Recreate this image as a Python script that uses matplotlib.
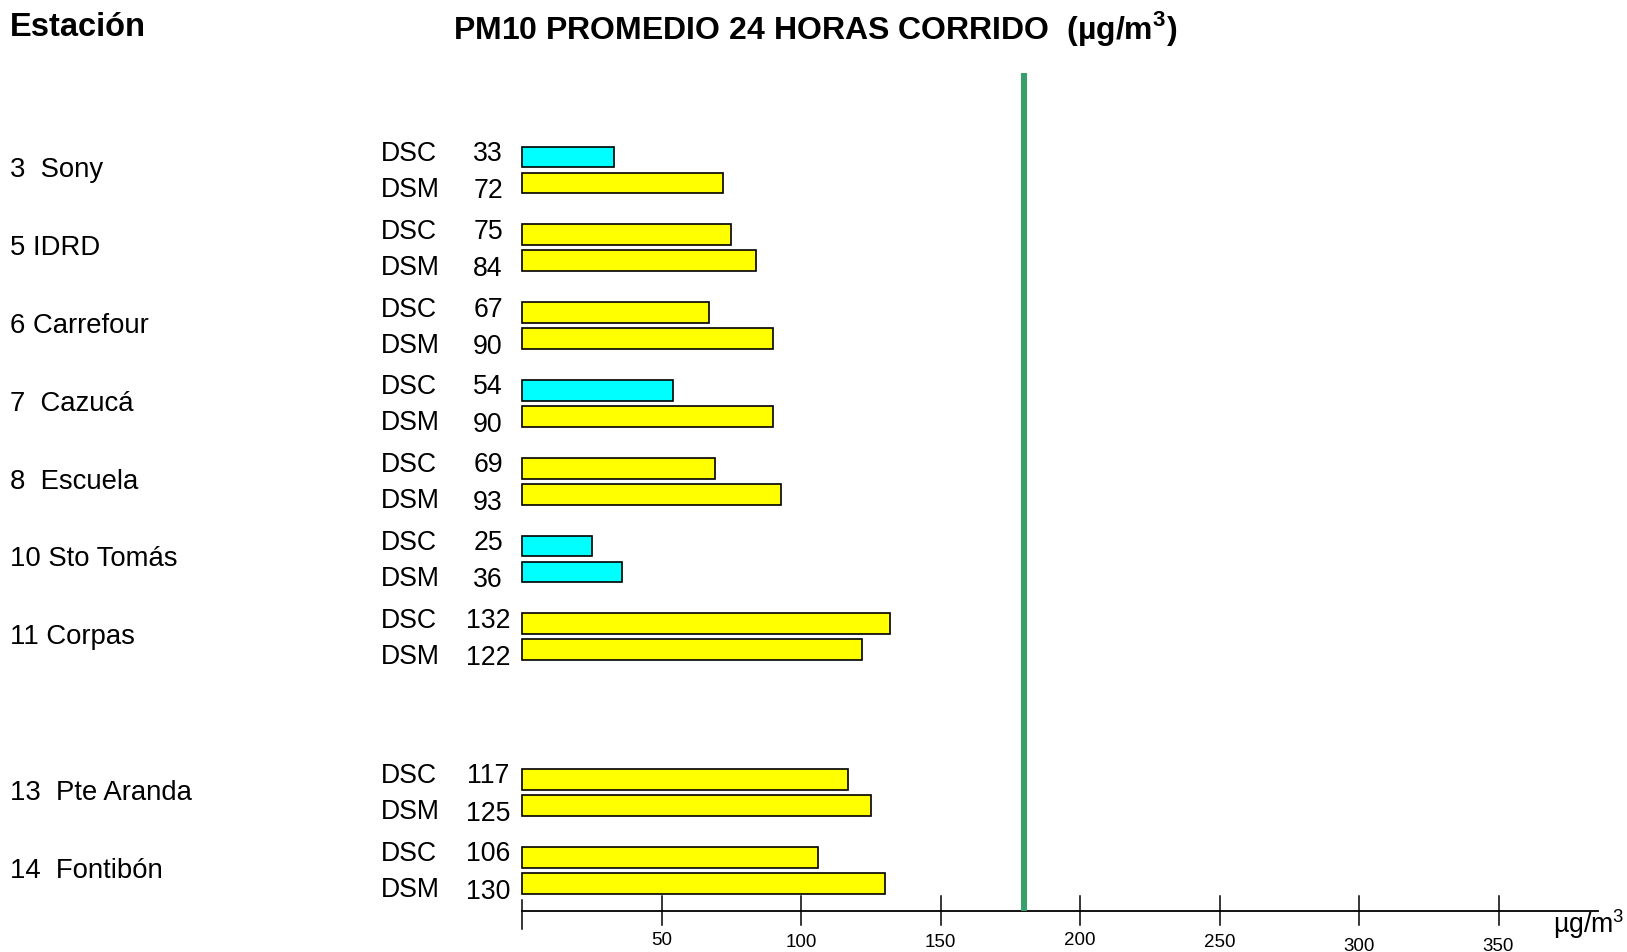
import matplotlib
matplotlib.use("Agg")
import matplotlib.pyplot as plt

plt.rcParams['font.family'] = ['Liberation Sans', 'DejaVu Sans']
plt.rcParams['mathtext.fontset'] = 'custom'
plt.rcParams['mathtext.rm'] = 'Liberation Sans'
plt.rcParams['mathtext.bf'] = 'Liberation Sans:bold'

# ---------------- data ----------------
stations = ["3  Sony", "5 IDRD", "6 Carrefour", "7  Cazucá", "8  Escuela",
            "10 Sto Tomás", "11 Corpas", "13  Pte Aranda", "14  Fontibón"]
slots = [0, 1, 2, 3, 4, 5, 6, 8, 9]          # row index (slot 7 empty)
dsc = [33, 75, 67, 54, 69, 25, 132, 117, 106]
dsm = [72, 84, 90, 90, 93, 36, 122, 125, 130]
series_labels = ["DSC", "DSM"]
good_max = 54                                 # values <= this drawn cyan
limit = 180                                   # green reference line
ticks = [0, 50, 100, 150, 200, 250, 300, 350]
axis_max = 385.7
title = r"PM10 PROMEDIO 24 HORAS CORRIDO  (µg/m$^{\mathbf{3}}$)"
unit = r"µg/m$^{3}$"

# ---------------- layout ----------------
W, H = 1627, 953
PX0, PPU = 522.0, 2.79           # pixel of value 0, pixels per unit
ROW0, ROWH = 170.4, 77.82        # pixel y of first row center, row spacing

fig = plt.figure(figsize=(W / 100, H / 100), dpi=100)
ax = fig.add_axes([0, 0, 1, 1])
ax.set_xlim(-PX0 / PPU, (W - PX0) / PPU)
ax.set_ylim((H - ROW0) / ROWH, -ROW0 / ROWH)
ax.axis('off')


def dx(px):
    return (px - PX0) / PPU


def dy(py):
    return (py - ROW0) / ROWH


CYAN, YELLOW = "#00FFFF", "#FFFF00"
bar_h = 20.75 / ROWH
off_dsc = -12.5 / ROWH
off_dsm = 13.5 / ROWH


def col(v):
    return CYAN if v <= good_max else YELLOW


ax.barh([s + off_dsc for s in slots], dsc, height=bar_h, left=0,
        color=[col(v) for v in dsc], edgecolor='black', linewidth=1.2, zorder=3)
ax.barh([s + off_dsm for s in slots], dsm, height=bar_h, left=0,
        color=[col(v) for v in dsm], edgecolor='black', linewidth=1.2, zorder=3)

fs = 19.2
for s, name, a, b in zip(slots, stations, dsc, dsm):
    ax.text(dx(10), s, name, fontsize=19.8, ha='left', va='center')
    ax.text(dx(381), s - 16.5 / ROWH, series_labels[0], fontsize=fs, ha='left', va='center')
    ax.text(dx(381), s + 19.5 / ROWH, series_labels[1], fontsize=fs, ha='left', va='center')
    ax.text(dx(488), s - 16.5 / ROWH, str(a), fontsize=fs, ha='center', va='center')
    ax.text(dx(488), s + 21 / ROWH, str(b), fontsize=fs, ha='center', va='center')

# green limit line
AX_Y = 912.3
ax.plot([limit, limit], [dy(74), dy(AX_Y)], color='#3A9E6B', linewidth=4.4,
        solid_capstyle='butt', zorder=4)

# custom axis
ax.plot([0, axis_max], [dy(AX_Y), dy(AX_Y)], color='black', linewidth=1.3, zorder=2)
tick_label_y = [None, 941, 943, 943, 941, 943, 947, 947]
for t, ly in zip(ticks, tick_label_y):
    if t == 0:
        ax.plot([t, t], [dy(901), dy(930)], color='black', linewidth=1.1)
    else:
        ax.plot([t, t], [dy(897), dy(926)], color='black', linewidth=1.1)
        ax.text(t, dy(ly), str(t), fontsize=13.5, ha='center', va='center')

ax.text(dx(1553), dy(924), unit, fontsize=fs, ha='left', va='center')

# header texts
fig.text(10 / W, 1 - 27 / H, "Estación", fontsize=23.5, fontweight='bold',
         ha='left', va='center')
fig.text(815 / W, 1 - 29 / H, title, fontsize=23, fontweight='bold',
         ha='center', va='center')

fig.savefig("out.png", dpi=100)
